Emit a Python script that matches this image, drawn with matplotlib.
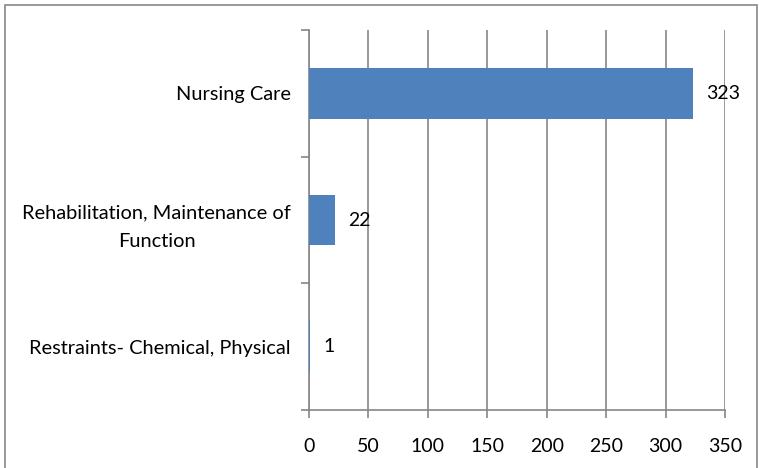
import matplotlib
matplotlib.use("Agg")
import matplotlib.pyplot as plt
from matplotlib.patches import Rectangle

categories = ["Restraints- Chemical, Physical",
              "Rehabilitation, Maintenance of\nFunction",
              "Nursing Care"]
values = [1, 22, 323]
xticks = [0, 50, 100, 150, 200, 250, 300, 350]

plt.rcParams['font.family'] = ['Lato', 'DejaVu Sans']

W, H = 759, 468
fig = plt.figure(figsize=(W / 100, H / 100), dpi=100)
ax = fig.add_axes([309 / W, 1 - 410 / H, (725 - 309) / W, (410 - 30) / H])

grid_col = "#868686"
ax.barh(range(len(categories)), values, height=0.4, color="#4F81BD", zorder=3)
ax.set_xlim(0, 350)
ax.set_ylim(-0.5, len(categories) - 0.5)
ax.set_xticks(xticks)
ax.set_xticklabels([str(t) for t in xticks], fontsize=14)
ax.xaxis.grid(True, color=grid_col, linewidth=1.2, zorder=0)

ax.set_yticks(range(len(categories)))
ax.set_yticklabels(categories, fontsize=14.4, multialignment='center', linespacing=1.8)
ax.tick_params(axis='y', length=0, pad=13)
ax.set_yticks([i - 0.5 for i in range(len(categories) + 1)], minor=True)
ax.tick_params(axis='y', which='minor', length=6, color=grid_col, width=1.2)
ax.tick_params(axis='x', length=6, color=grid_col, width=1.2, pad=14)

for s in ['top', 'right']:
    ax.spines[s].set_visible(False)
for s in ['left', 'bottom']:
    ax.spines[s].set_color(grid_col)
    ax.spines[s].set_linewidth(1.2)
    ax.spines[s].set_zorder(2)

for i, v in enumerate(values):
    ax.annotate(str(v), (v, i), xytext=(9.5, 0), textcoords='offset points',
                va='center', ha='left', fontsize=14)

fig.patches.append(Rectangle((5 / W, -0.01), (757 - 5) / W, 1 - 5 / H + 0.01,
                             transform=fig.transFigure, fill=False,
                             edgecolor="#898989", linewidth=1.2))

fig.savefig("out.png", dpi=100, facecolor="white")
